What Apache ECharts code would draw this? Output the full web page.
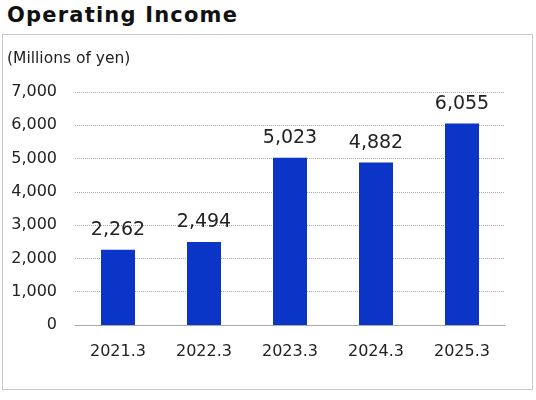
<!DOCTYPE html>
<html><head><meta charset="utf-8">
<script src="https://cdn.jsdelivr.net/npm/echarts@6/dist/echarts.min.js"></script>
<style>
html,body{margin:0;padding:0;background:#fff;}
#title{position:absolute;left:7px;top:3px;font:bold 21px "DejaVu Sans";letter-spacing:1.2px;color:#111;}
#box{position:absolute;left:2px;top:34px;width:529px;height:354px;border:1px solid #c8c8c8;}
#chart{position:absolute;left:0;top:0;width:536px;height:400px;}
</style></head>
<body>
<div id="title">Operating Income</div>
<div id="box"></div>
<div id="chart"></div>
<script>
const categories = ['2021.3','2022.3','2023.3','2024.3','2025.3'];
const operatingIncome = [2262, 2494, 5023, 4882, 6055];
const unitLabel = '(Millions of yen)';

const chart = echarts.init(document.getElementById('chart'));
chart.setOption({
  animation:false,
  textStyle:{fontFamily:'DejaVu Sans'},
  graphic:[{type:'text', left:7, top:51, style:{text:unitLabel, font:'15.5px "DejaVu Sans"', fill:'#222'}}],
  grid:{left:75, right:31, top:92, bottom:75, containLabel:false},
  xAxis:{type:'category', data:categories,
    axisLine:{lineStyle:{color:'#aaa'}}, axisTick:{show:false},
    axisLabel:{color:'#222', fontSize:16, margin:19}},
  yAxis:{type:'value', min:0, max:7000, interval:1000,
    axisLine:{show:false}, axisTick:{show:false},
    axisLabel:{color:'#222', fontSize:16, margin:18,
      formatter:v=>v.toLocaleString('en-US')},
    splitLine:{lineStyle:{color:'#aaa', type:'dotted'}}},
  series:[{type:'bar', data:operatingIncome, barWidth:34,
    itemStyle:{color:'#0b35c6'},
    label:{show:true, position:'top', distance:10, color:'#222', fontSize:19,
      formatter:p=>p.value.toLocaleString('en-US')}}]
});
</script>
</body></html>
